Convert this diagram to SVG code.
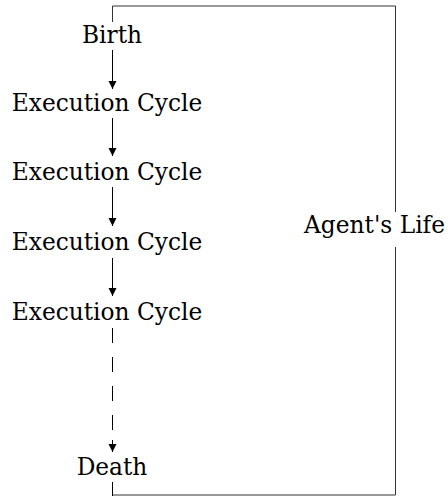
<svg xmlns="http://www.w3.org/2000/svg" width="448" height="496" viewBox="0 0 448 496">
  <style>
    .lbl { font-family: "DejaVu Serif", "Liberation Serif", serif; font-size: 23.3px; fill: #000; text-anchor: middle; }
    .edge { stroke: #000; stroke-width: 1; fill: none; }
    .dash { stroke-dasharray: 15 14; }
    .frame { stroke: #333; stroke-width: 1; fill: none; }
  </style>
  <defs>
    <marker id="arrow" viewBox="0 0 8 12" refX="8" refY="6" markerWidth="8" markerHeight="12" markerUnits="userSpaceOnUse" orient="auto">
      <path d="M0,2 L8,6 L0,10 Z" fill="#000"/>
    </marker>
  </defs>

  <!-- bracket spanning the whole life -->
  <g id="life">
    <path class="frame" d="M112.5,22 V6 H395.5 V495 H112.5"/>
    <rect x="300" y="212" width="148" height="35" fill="#fff"/>
    <text class="lbl" x="374.5" y="233">Agent's Life</text>
  </g>

  <g id="connectors">
    <line class="edge" x1="112.5" y1="50" x2="112.5" y2="89" marker-end="url(#arrow)"/>
    <line class="edge" x1="112.5" y1="118" x2="112.5" y2="156" marker-end="url(#arrow)"/>
    <line class="edge" x1="112.5" y1="187" x2="112.5" y2="226" marker-end="url(#arrow)"/>
    <line class="edge" x1="112.5" y1="258" x2="112.5" y2="296" marker-end="url(#arrow)"/>
    <line class="edge dash" x1="112.5" y1="328" x2="112.5" y2="430"/>
    <line class="edge" x1="112.5" y1="440" x2="112.5" y2="452" marker-end="url(#arrow)"/>
    <line class="edge" x1="112.5" y1="482" x2="112.5" y2="496"/>
  </g>

  <g id="birth"><text class="lbl" x="112" y="43">Birth</text></g>
  <g id="cycle1"><text class="lbl" x="107" y="111">Execution Cycle</text></g>
  <g id="cycle2"><text class="lbl" x="107" y="180">Execution Cycle</text></g>
  <g id="cycle3"><text class="lbl" x="107" y="250">Execution Cycle</text></g>
  <g id="cycle4"><text class="lbl" x="107" y="320">Execution Cycle</text></g>
  <g id="death"><text class="lbl" x="112" y="475">Death</text></g>
</svg>
